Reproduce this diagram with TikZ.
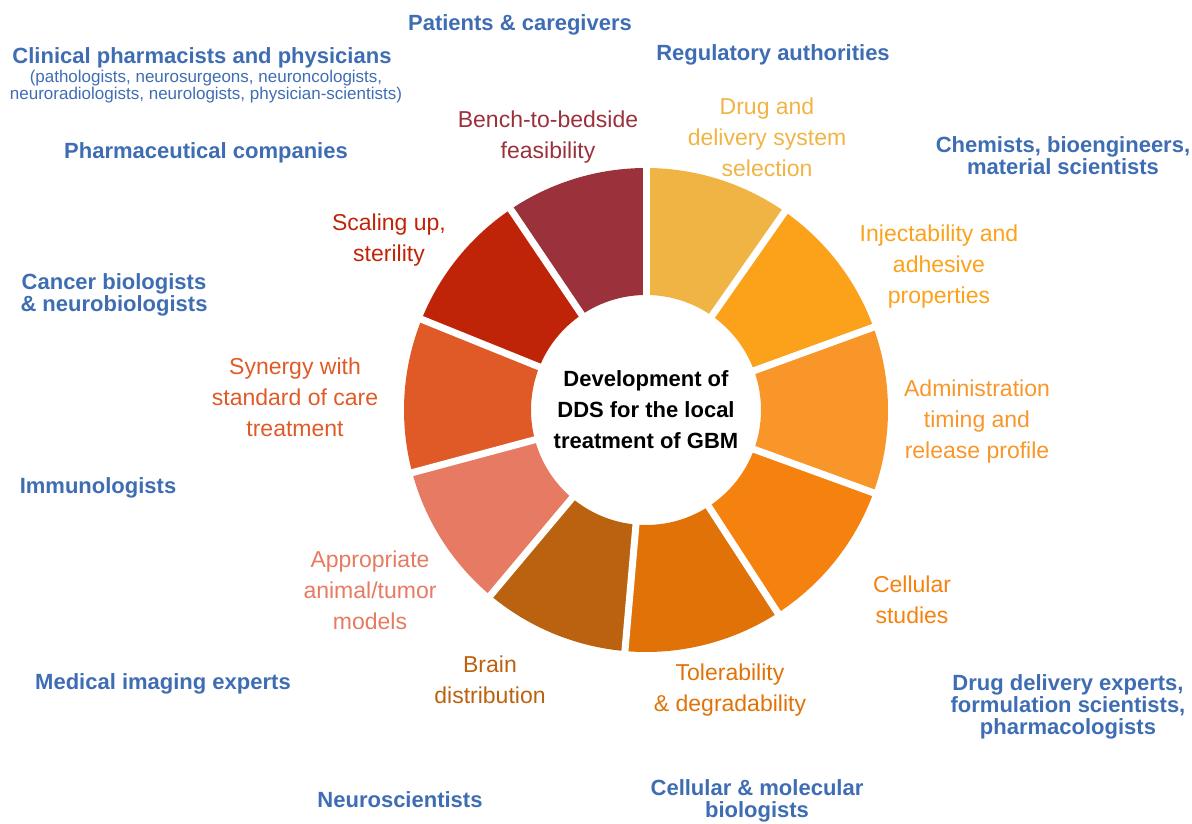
\documentclass[tikz,border=0pt]{standalone}
\usepackage{fontspec}
\setmainfont{Liberation Sans}

\definecolor{people}{HTML}{3F6DB3}
\definecolor{cBench}{HTML}{9B313B}
\definecolor{cDrug}{HTML}{F0B445}
\definecolor{cInject}{HTML}{FCA11A}
\definecolor{cAdmin}{HTML}{F8962A}
\definecolor{cCell}{HTML}{F5820F}
\definecolor{cToler}{HTML}{E07208}
\definecolor{cBrain}{HTML}{BA6210}
\definecolor{cModel}{HTML}{E67A62}
\definecolor{cSynergy}{HTML}{E05A28}
\definecolor{cScale}{HTML}{C02408}

\tikzset{
	who/.style={text=people, align=center, font=\bfseries\fontsize{22}{22}\selectfont},
	whosub/.style={text=people, align=center, inner sep=0pt, font=\fontsize{17}{17}\selectfont},
	task/.style={align=center, font=\fontsize{23}{31}\selectfont},
	gap/.style={white, line width=7pt},
	hub/.style={align=center, font=\bfseries\fontsize{22}{31}\selectfont}
}

\begin{document}
\begin{tikzpicture}[x = 1pt, y = 1pt]
	\useasboundingbox (0,0) rectangle (1192,823);
	
	\begin{scope}[shift={(646,413)}]
	% ring segments
	\fill[cDrug] (55:242) arc[start angle=55, end angle=90, radius=242] -- (90:115) arc[start angle=90, end angle=55, radius=115] -- cycle;
	\fill[cInject] (20:242) arc[start angle=20, end angle=55, radius=242] -- (55:115) arc[start angle=55, end angle=20, radius=115] -- cycle;
	\fill[cAdmin] (-20:242) arc[start angle=-20, end angle=20, radius=242] -- (20:115) arc[start angle=20, end angle=-20, radius=115] -- cycle;
	\fill[cCell] (-57:242) arc[start angle=-57, end angle=-20, radius=242] -- (-20:115) arc[start angle=-20, end angle=-57, radius=115] -- cycle;
	\fill[cToler] (-95:242) arc[start angle=-95, end angle=-57, radius=242] -- (-57:115) arc[start angle=-57, end angle=-95, radius=115] -- cycle;
	\fill[cBrain] (-130:242) arc[start angle=-130, end angle=-95, radius=242] -- (-95:115) arc[start angle=-95, end angle=-130, radius=115] -- cycle;
	\fill[cModel] (-165:242) arc[start angle=-165, end angle=-130, radius=242] -- (-130:115) arc[start angle=-130, end angle=-165, radius=115] -- cycle;
	\fill[cSynergy] (158:242) arc[start angle=158, end angle=195, radius=242] -- (195:115) arc[start angle=195, end angle=158, radius=115] -- cycle;
	\fill[cScale] (124:242) arc[start angle=124, end angle=158, radius=242] -- (158:115) arc[start angle=158, end angle=124, radius=115] -- cycle;
	\fill[cBench] (90:242) arc[start angle=90, end angle=124, radius=242] -- (124:115) arc[start angle=124, end angle=90, radius=115] -- cycle;
	
	% white gaps between segments
	\draw[gap] (90:100) -- (90:250);
	\draw[gap] (55:100) -- (55:250);
	\draw[gap] (20:100) -- (20:250);
	\draw[gap] (-20:100) -- (-20:250);
	\draw[gap] (-57:100) -- (-57:250);
	\draw[gap] (-95:100) -- (-95:250);
	\draw[gap] (-130:100) -- (-130:250);
	\draw[gap] (-165:100) -- (-165:250);
	\draw[gap] (158:100) -- (158:250);
	\draw[gap] (124:100) -- (124:250);
	
	\node[hub] (dds) at (0,0) {Development of\\DDS for the local\\treatment of GBM};
	\end{scope}
	
	% what has to be looked at
	\node[task, text=cBench] (bench) at (548,686) {Bench-to-bedside\\feasibility};
	\node[task, text=cDrug] (drug) at (767,686) {Drug and\\delivery system\\selection};
	\node[task, text=cInject] (inject) at (939,556) {Injectability and\\adhesive\\properties};
	\node[task, text=cAdmin] (admin) at (977,401) {Administration\\timing and\\release profile};
	\node[task, text=cCell] (cellular) at (912,223) {Cellular\\studies};
	\node[task, text=cToler] (toler) at (730,133) {Tolerability\\\& degradability};
	\node[task, text=cBrain] (brain) at (490,143) {Brain\\distribution};
	\node[task, text=cModel] (model) at (370,233) {Appropriate\\animal/tumor\\models};
	\node[task, text=cSynergy] (synergy) at (295,426) {Synergy with\\standard of care\\treatment};
	\node[task, text=cScale] (scaling) at (389,583) {Scaling up,\\sterility};
	
	% who is involved
	\node[who] (patients) at (520,798) {Patients \& caregivers};
	\node[who] (regulatory) at (773,768) {Regulatory authorities};
	\node[who] (clinical) at (202,765) {Clinical pharmacists and physicians};
	\node[whosub] (clinicalsub) at (206,736) {(pathologists, neurosurgeons, neuroncologists,\\neuroradiologists, neurologists, physician-scientists)};
	\node[who] (pharma) at (206,670) {Pharmaceutical companies};
	\node[who] (chemists) at (1063,667) {Chemists, bioengineers,\\material scientists};
	\node[who] (cancer) at (114,528) {Cancer biologists\\\& neurobiologists};
	\node[who] (immuno) at (98,335) {Immunologists};
	\node[who] (imaging) at (163,139) {Medical imaging experts};
	\node[who] (neurosci) at (400,23) {Neuroscientists};
	\node[who] (cellmol) at (757,22) {Cellular \& molecular\\biologists};
	\node[who] (drugdel) at (1068,116) {Drug delivery experts,\\formulation scientists,\\pharmacologists};
\end{tikzpicture}
\end{document}
